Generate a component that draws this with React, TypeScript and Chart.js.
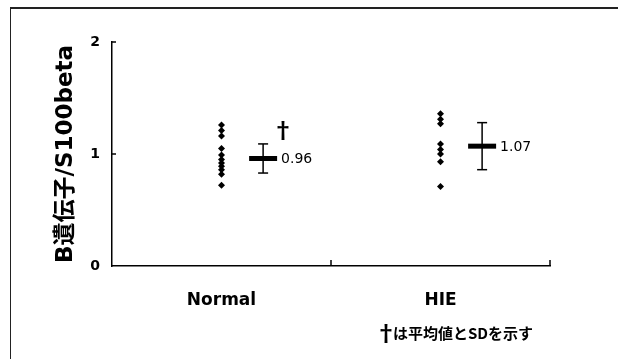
import React, { useEffect, useRef } from "react";
import { Chart, registerables } from "chart.js";

Chart.register(...registerables);

const categories = ["Normal", "HIE"];
const categorySlots = [0.5, 1.5];
const meanSlots = [0.69, 1.69];
const normalValues = [1.26, 1.21, 1.16, 1.05, 0.99, 0.95, 0.92, 0.89, 0.86, 0.82, 0.72];
const hieValues = [1.36, 1.31, 1.27, 1.09, 1.04, 1.0, 0.93, 0.71];
const means = [0.96, 1.07];
const sds = [0.13, 0.21];
const meanLabels = ["0.96", "1.07"];
const yTicks = [0, 1, 2];
const yTitle = "B遺伝子/S100beta";
const footnoteMark = "†";
const footnoteText = "は平均値とSDを示す";

const LATIN = '"DejaVu Sans", "Noto Sans CJK JP", sans-serif';
const CJK = '"Noto Sans CJK JP", "DejaVu Sans", sans-serif';

const annotate = {
  id: "annotate",
  afterDraw(chart: any) {
    const { ctx, scales } = chart;
    const x = scales.x;
    const y = scales.y;
    ctx.save();
    ctx.strokeStyle = "#000";
    ctx.lineWidth = 1.5;
    // inward tick marks
    [1, 2].forEach((v) => {
      const py = y.getPixelForValue(v);
      ctx.beginPath();
      ctx.moveTo(x.left, py);
      ctx.lineTo(x.left + 4, py);
      ctx.stroke();
      const px = x.getPixelForValue(v);
      ctx.beginPath();
      ctx.moveTo(px, y.bottom);
      ctx.lineTo(px, y.bottom - 6);
      ctx.stroke();
    });
    // mean labels
    ctx.fillStyle = "#000";
    ctx.textBaseline = "middle";
    ctx.textAlign = "left";
    ctx.font = `14px ${LATIN}`;
    means.forEach((m, i) => {
      const px = x.getPixelForValue(meanSlots[i]);
      const py = y.getPixelForValue(m);
      ctx.fillText(meanLabels[i], px + 18, py + 1);
    });
    // dagger above Normal label
    {
      const px = x.getPixelForValue(meanSlots[0]);
      const py = y.getPixelForValue(means[0]);
      ctx.font = `bold 22px ${CJK}`;
      ctx.fillText("†", px + 9, py - 29);
    }
    // footnote
    ctx.font = `bold 22px ${CJK}`;
    ctx.fillText(footnoteMark, 375, 333);
    ctx.font = `bold 15px ${CJK}`;
    ctx.fillText(footnoteText, 393, 333);
    ctx.restore();
  },
};

export default function App() {
  const ref = useRef<HTMLCanvasElement | null>(null);

  useEffect(() => {
    if (!ref.current) return;
    const errorSets = means.map((m, i) => ({
      type: "line" as const,
      data: [
        { x: meanSlots[i], y: m - sds[i] },
        { x: meanSlots[i], y: m + sds[i] },
      ],
      showLine: true,
      borderColor: "#000",
      borderWidth: 1.5,
      pointStyle: "line" as const,
      pointRadius: 5,
      pointBorderWidth: 1.5,
      pointBorderColor: "#000",
      pointBackgroundColor: "#000",
    }));
    const chart = new Chart(ref.current, {
      type: "scatter",
      data: {
        datasets: [
          ...errorSets,
          {
            data: means.map((m, i) => ({ x: meanSlots[i], y: m })),
            pointStyle: "line",
            pointRadius: 14,
            pointBorderWidth: 5,
            pointBorderColor: "#000",
            pointBackgroundColor: "#000",
          },
          {
            data: normalValues.map((v) => ({ x: categorySlots[0], y: v })),
            pointStyle: "rectRot",
            pointRadius: 3.5,
            pointBackgroundColor: "#000",
            pointBorderColor: "#000",
            pointBorderWidth: 0,
          },
          {
            data: hieValues.map((v) => ({ x: categorySlots[1], y: v })),
            pointStyle: "rectRot",
            pointRadius: 3.5,
            pointBackgroundColor: "#000",
            pointBorderColor: "#000",
            pointBorderWidth: 0,
          },
        ],
      } as any,
      options: {
        animation: false,
        responsive: true,
        maintainAspectRatio: false,
        layout: { padding: { left: 0, top: 42, right: 68, bottom: 0 } },
        plugins: { legend: { display: false }, tooltip: { enabled: false } },
        scales: {
          x: {
            type: "linear",
            min: 0,
            max: 2,
            afterBuildTicks: (s: any) => {
              s.ticks = categorySlots.map((v) => ({ value: v }));
            },
            afterFit: (s: any) => {
              s.height = 93;
            },
            ticks: {
              autoSkip: false,
              maxRotation: 0,
              padding: 24,
              color: "#000",
              font: { family: LATIN, size: 17, weight: "bold" },
              callback: (_v: any, i: number) => categories[i],
            },
            grid: { display: false, drawTicks: false },
            border: { display: true, color: "#000", width: 1.5 },
          },
          y: {
            min: 0,
            max: 2,
            afterBuildTicks: (s: any) => {
              s.ticks = yTicks.map((v) => ({ value: v }));
            },
            afterFit: (s: any) => {
              s.width = 112;
            },
            ticks: {
              padding: 12,
              color: "#000",
              font: { family: LATIN, size: 14, weight: "bold" },
            },
            grid: { display: false, drawTicks: false },
            border: { display: true, color: "#000", width: 1.5 },
            title: {
              display: true,
              text: yTitle,
              color: "#000",
              font: { family: LATIN, size: 23, weight: "bold" },
              padding: { top: 52, bottom: 0 },
            },
          },
        },
      } as any,
      plugins: [annotate],
    });
    return () => chart.destroy();
  }, []);

  return (
    <div style={{ position: "absolute", left: 0, top: 0, width: 618, height: 359, background: "#fff" }}>
      <div
        style={{
          position: "absolute",
          left: 10,
          top: 7,
          width: 608,
          height: 352,
          borderTop: "2px solid #222",
          borderLeft: "1.5px solid #222",
          boxSizing: "border-box",
        }}
      />
      <canvas ref={ref} style={{ position: "absolute", left: 0, top: 0 }} />
    </div>
  );
}
